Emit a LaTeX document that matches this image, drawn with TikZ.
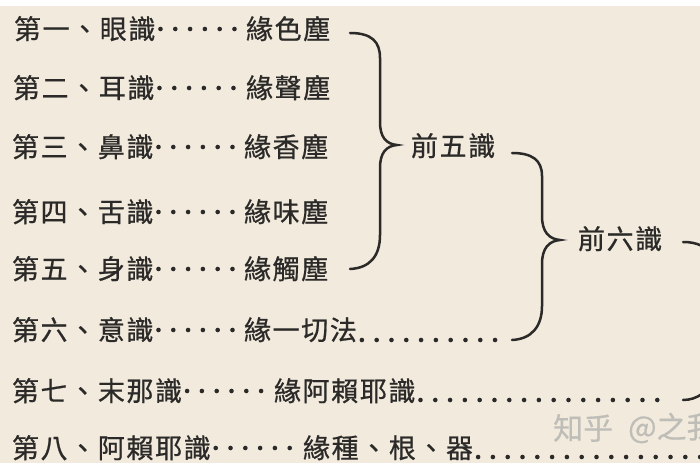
\documentclass[tikz,border=0pt]{standalone}
\usepackage{fontspec}
\setmainfont[LetterSpace=6,FakeBold=0.7]{Noto Sans CJK TC}
\newfontfamily\markfont[FakeBold=0.5]{Noto Sans CJK TC}
\definecolor{paper}{HTML}{F1EADD}
\definecolor{ink}{HTML}{2B2A28}
\definecolor{markgray}{HTML}{BEBDB7}
\tikzset{
 item/.style={anchor=west,inner sep=0pt,outer sep=0pt,text=ink,text height=22pt,text depth=2pt,font=\fontsize{27}{27}\selectfont},
 midrow/.style={line width=4.6pt,line cap=round,ink,dash pattern=on 0pt off 14.8pt,shorten <=5pt},
 lowrow/.style={midrow,shorten >=12pt},
 bracket/.style={ink,line width=2.5pt,line cap=round},
 watermark/.style={anchor=west,inner sep=0pt,text=markgray,font=\markfont\fontsize{30}{30}\selectfont}
}
\newcommand{\entry}[3]{%
 \node[item] ({#1}) at ({#2}) {#3};%
}
\newcommand{\midline}[2]{%
 \draw[midrow] (#1.east) -- (#2.west);%
}
\begin{document}
\begin{tikzpicture}[x=1pt,y=-1pt]
   \useasboundingbox (0,0) rectangle (700,470);
   \begin{scope}
   \clip (0,0) rectangle (700,470);
   \fill[paper] (0,6) rectangle (700,463);
   \entry{a1}{14,29}{第一、眼識}
   \entry{b1}{246,29}{緣色塵}
   \entry{a2}{13,88}{第二、耳識}
   \entry{b2}{246,88}{緣聲塵}
   \entry{a3}{12,147}{第三、鼻識}
   \entry{b3}{244,147}{緣香塵}
   \entry{a4}{12,212}{第四、舌識}
   \entry{b4}{244,212}{緣味塵}
   \entry{a5}{12,269}{第五、身識}
   \entry{b5}{244,269}{緣觸塵}
   \entry{a6}{12,330}{第六、意識}
   \entry{b6}{244,330}{緣一切法}
   \entry{a7}{12,391}{第七、末那識}
   \entry{b7}{274,391}{緣阿賴耶識}
   \entry{a8}{12,448}{第八、阿賴耶識}
   \entry{b8}{303,448}{緣種、根、器}
   \entry{five}{411,146}{前五識}
   \entry{six}{578,239}{前六識}
   \node[watermark] (zhihu) at (553,428) {知乎};
   \node[watermark] (author) at (628,428) {@之我};
   \midline{a1}{b1}
   \midline{a2}{b2}
   \midline{a3}{b3}
   \midline{a4}{b4}
   \midline{a5}{b5}
   \midline{a6}{b6}
   \midline{a7}{b7}
   \midline{a8}{b8}
   \coordinate (t1) at (350,33);
   \coordinate (e1) at (350,269);
   \coordinate (t2) at (512,153);
   \coordinate (e2) at (512,340);
   \coordinate (t3) at (683,242);
   \coordinate (e3) at (683,400);
   \coordinate (e4) at (720,457);
   \draw[lowrow] ([yshift=-10pt]b6.east) -- (e2);
   \draw[lowrow] ([yshift=-9pt]b7.east) -- (e3);
   \draw[lowrow] ([yshift=-9pt]b8.east) -- (e4);
   \draw[bracket] (t1) .. controls (372,33) and (380,42) .. (380,58) -- (380,122)
     .. controls (380,137) and (386,144) .. (397,145)
     .. controls (386,146) and (380,153) .. (380,168) -- (380,235)
     .. controls (380,256) and (370,268) .. (e1);
   \draw[bracket] (t2) .. controls (532,153) and (542,160) .. (542,176) -- (542,216)
     .. controls (542,232) and (549,239) .. (560,240)
     .. controls (549,241) and (542,248) .. (542,264) -- (542,306)
     .. controls (542,326) and (532,339) .. (e2);
   \draw[bracket] (t3) .. controls (690,242) and (696,243) .. (702,246);
   \draw[bracket] (e3) .. controls (690,400) and (696,398) .. (702,394);
   \fill[white] (0,463) rectangle (700,470);
   \end{scope}
\end{tikzpicture}
\end{document}
